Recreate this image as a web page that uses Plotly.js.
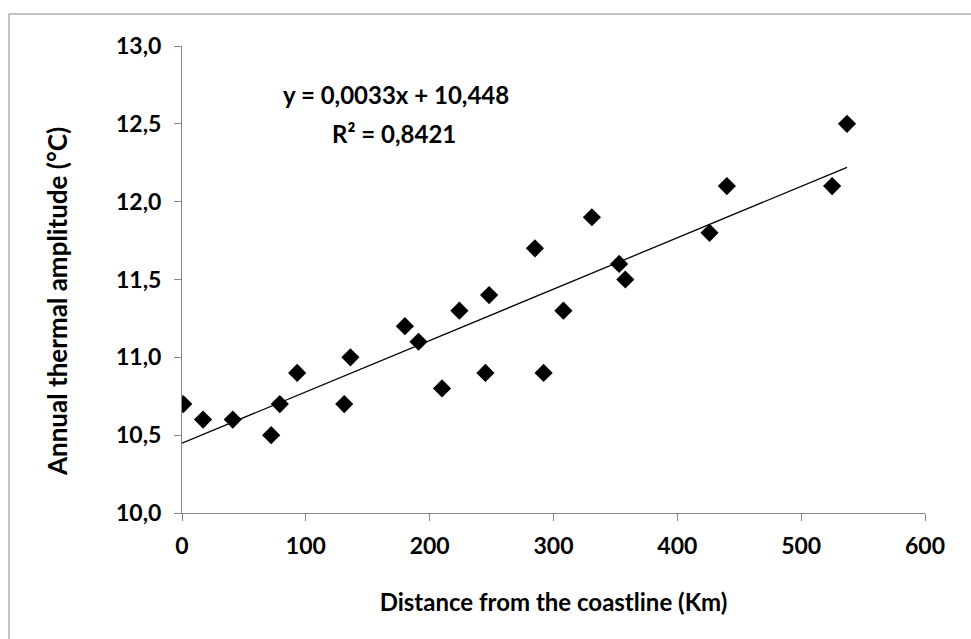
<!DOCTYPE html>
<html>
<head>
<meta charset="utf-8">
<script src="https://cdn.plot.ly/plotly-3.0.1.min.js"></script>
<style>html,body{margin:0;padding:0;background:#fff;}#chart{width:971px;height:639px;}</style>
</head>
<body>
<div id="chart"></div>
<script>
// Distance from the coastline (Km)
const distanceKm = [1, 17, 41, 72, 79, 93, 131, 136, 180, 191, 210, 224, 245, 248, 285, 292, 308, 331, 353, 358, 426, 440, 525, 537];
// Annual thermal amplitude (°C)
const amplitudeC = [10.7, 10.6, 10.6, 10.5, 10.7, 10.9, 10.7, 11.0, 11.2, 11.1, 10.8, 11.3, 10.9, 11.4, 11.7, 10.9, 11.3, 11.9, 11.6, 11.5, 11.8, 12.1, 12.1, 12.5];
// Trend line coefficients as shown on the chart
const slope = 0.0033;
const intercept = 10.448;
const rSquared = 0.8421;
const xTicks = [0, 100, 200, 300, 400, 500, 600];
const yTicks = [10.0, 10.5, 11.0, 11.5, 12.0, 12.5, 13.0];
const xTitle = 'Distance from the coastline (Km)';
const yTitle = 'Annual thermal amplitude (°C)';

const trendX = [0, Math.max(...distanceKm)];
const trendY = trendX.map(x => intercept + slope * x);

const fontFam = "Lato, 'Open Sans', sans-serif";
const fmt = (v, d) => v.toFixed(d).replace('.', ',');
const tickFont = {family: fontFam, size: 23, color: '#000', weight: 'bold'};
const titleFont = {family: fontFam, size: 24, color: '#000', weight: 'bold'};

const data = [
  {x: trendX, y: trendY, mode: 'lines', type: 'scatter', line: {color: '#000', width: 1.3}, hoverinfo: 'skip', showlegend: false},
  {x: distanceKm, y: amplitudeC, mode: 'markers', type: 'scatter', marker: {symbol: 'diamond', size: 14, color: '#000'}, showlegend: false}
];

const layout = {
  width: 971, height: 639,
  margin: {l: 182, r: 46, t: 46, b: 126},
  paper_bgcolor: '#fff', plot_bgcolor: '#fff',
  font: {family: fontFam, size: 22, color: '#000', weight: 'bold'},
  xaxis: {
    range: [0, 600], tickvals: xTicks, ticktext: xTicks.map(String),
    showgrid: false, zeroline: false, showline: true, linecolor: '#868686', linewidth: 1,
    ticks: 'outside', ticklen: 7, tickcolor: '#868686', tickwidth: 1,
    tickfont: tickFont,
    ticklabelstandoff: 5,
    title: {text: xTitle, font: titleFont, standoff: 36},
    automargin: false
  },
  yaxis: {
    range: [10, 13], tickvals: yTicks, ticktext: yTicks.map(v => fmt(v, 1)),
    showgrid: false, zeroline: false, showline: true, linecolor: '#868686', linewidth: 1,
    ticks: 'outside', ticklen: 7, tickcolor: '#868686', tickwidth: 1,
    tickfont: tickFont,
    ticklabelstandoff: 8,
    automargin: false
  },
  annotations: [
    {xref: 'x', yref: 'y', x: 172.8, y: 12.69, text: 'y = ' + fmt(slope, 4) + 'x + ' + fmt(intercept, 3),
     showarrow: false, font: {family: fontFam, size: 24, color: '#000', weight: 'bold'}, align: 'center'},
    {xref: 'x', yref: 'y', x: 171.2, y: 12.44, text: 'R² = ' + fmt(rSquared, 4),
     showarrow: false, font: {family: fontFam, size: 24, color: '#000', weight: 'bold'}, align: 'center'},
    {xref: 'paper', yref: 'paper', x: (57 - 182) / 743, y: (513 - 302) / 467, text: yTitle, textangle: -90,
     showarrow: false, font: {family: fontFam, size: 26, color: '#000', weight: 'bold'}, xanchor: 'center', yanchor: 'middle'}
  ],
  shapes: []
};

// outer chart border (only top and left edges fall inside the picture)
layout.shapes.push({type: 'rect', xref: 'paper', yref: 'paper',
  x0: (9 - 182) / (971 - 182 - 46), x1: (990 - 182) / (971 - 182 - 46),
  y0: (513 - 660) / (513 - 46), y1: (513 - 14) / (513 - 46),
  line: {color: '#868686', width: 1}, layer: 'below'});

Plotly.newPlot('chart', data, layout, {displayModeBar: false, staticPlot: true});
</script>
</body>
</html>
